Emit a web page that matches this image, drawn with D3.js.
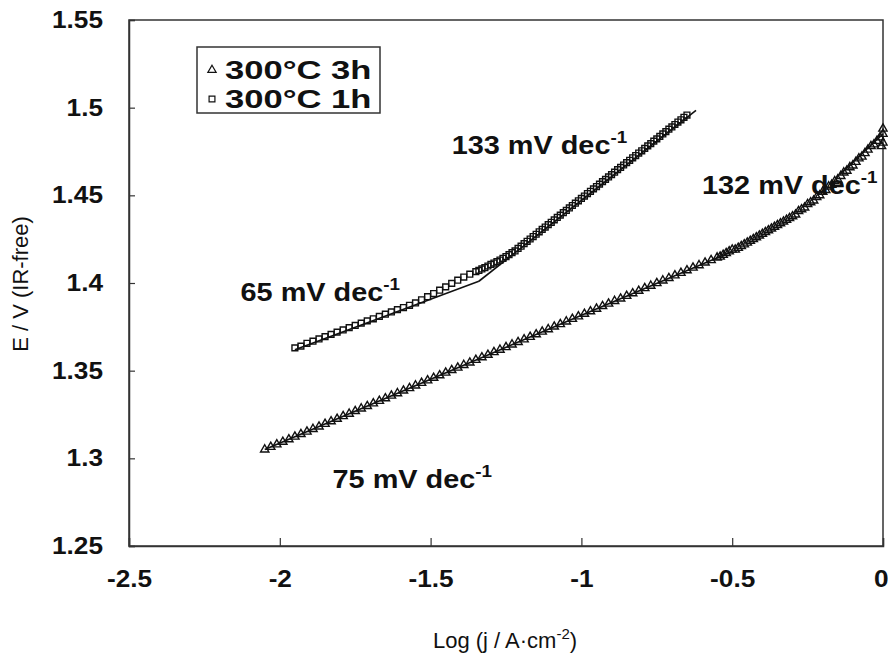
<!DOCTYPE html>
<html lang="en">
<head>
<meta charset="UTF-8">
<title>Tafel plot</title>
<script src="https://d3js.org/d3.v7.min.js"></script>
<style>
    body { margin: 0; background: #fff; }
    svg text { font-family: "Liberation Sans", Arial, sans-serif; fill: #111; }
</style>
</head>
<body>
<script>
// 300°C 3h (triangles)
const logj3h = [-2.05, -2.03, -2.01, -1.99, -1.97, -1.95, -1.93, -1.91, -1.89, -1.87,
    -1.85, -1.83, -1.81, -1.79, -1.77, -1.75, -1.73, -1.71, -1.69, -1.67,
    -1.65, -1.63, -1.61, -1.59, -1.57, -1.55, -1.53, -1.51, -1.49, -1.47,
    -1.45, -1.43, -1.41, -1.39, -1.37, -1.35, -1.33, -1.31, -1.29, -1.27,
    -1.25, -1.23, -1.21, -1.19, -1.17, -1.15, -1.13, -1.11, -1.09, -1.07,
    -1.05, -1.03, -1.01, -0.99, -0.97, -0.95, -0.93, -0.91, -0.89, -0.87,
    -0.85, -0.83, -0.81, -0.79, -0.77, -0.75, -0.73, -0.71, -0.69, -0.67,
    -0.65, -0.63, -0.61, -0.59, -0.57, -0.55,
    -0.54, -0.53, -0.52, -0.51, -0.50, -0.49, -0.48, -0.47, -0.46, -0.45,
    -0.44, -0.43, -0.42, -0.41, -0.40, -0.39, -0.38, -0.37, -0.36, -0.35,
    -0.34, -0.33, -0.32, -0.31, -0.30, -0.29, -0.28, -0.27, -0.26, -0.25,
    -0.24, -0.23, -0.22, -0.21, -0.20, -0.19, -0.18, -0.17, -0.16, -0.15,
    -0.14, -0.13, -0.12, -0.11, -0.10, -0.09, -0.08, -0.07, -0.06, -0.05,
    -0.04, -0.03, -0.02, -0.01, 0.00, 0.00, 0.00, -0.005];
const e3h = [1.3050, 1.3065, 1.3079, 1.3094, 1.3108, 1.3123, 1.3138, 1.3152, 1.3167, 1.3181,
    1.3196, 1.3211, 1.3225, 1.3240, 1.3254, 1.3269, 1.3284, 1.3298, 1.3313, 1.3327,
    1.3342, 1.3357, 1.3371, 1.3386, 1.3400, 1.3415, 1.3430, 1.3444, 1.3459, 1.3473,
    1.3488, 1.3503, 1.3517, 1.3532, 1.3546, 1.3561, 1.3576, 1.3590, 1.3605, 1.3619,
    1.3634, 1.3649, 1.3663, 1.3678, 1.3692, 1.3707, 1.3722, 1.3736, 1.3751, 1.3765,
    1.3780, 1.3795, 1.3809, 1.3824, 1.3838, 1.3853, 1.3868, 1.3882, 1.3897, 1.3911,
    1.3926, 1.3941, 1.3955, 1.3970, 1.3984, 1.3999, 1.4014, 1.4028, 1.4043, 1.4057,
    1.4072, 1.4087, 1.4101, 1.4116, 1.4130, 1.4145,
    1.415, 1.416, 1.417, 1.418, 1.419, 1.419, 1.420, 1.421, 1.422, 1.423,
    1.424, 1.425, 1.426, 1.427, 1.428, 1.429, 1.430, 1.431, 1.432, 1.433,
    1.434, 1.435, 1.436, 1.437, 1.438, 1.439, 1.441, 1.442, 1.443, 1.445,
    1.446, 1.447, 1.449, 1.450, 1.452, 1.453, 1.455, 1.456, 1.458, 1.459,
    1.461, 1.463, 1.464, 1.466, 1.467, 1.469, 1.471, 1.472, 1.474, 1.476,
    1.478, 1.479, 1.481, 1.483, 1.485, 1.480, 1.488, 1.478];

// 300°C 1h (squares)
const logj1h = [-1.95, -1.93, -1.91, -1.89, -1.87, -1.85, -1.83, -1.81, -1.79, -1.77,
    -1.75, -1.73, -1.71, -1.69, -1.67, -1.65, -1.63, -1.61, -1.59, -1.57,
    -1.55, -1.53, -1.51, -1.49, -1.47, -1.45, -1.43, -1.41, -1.39, -1.37,
    -1.35, -1.34, -1.33, -1.32, -1.31, -1.30, -1.29, -1.28, -1.27, -1.26,
    -1.25, -1.24, -1.23, -1.22, -1.21, -1.20, -1.19, -1.18, -1.17, -1.16,
    -1.15, -1.14, -1.13, -1.12, -1.11, -1.10, -1.09, -1.08, -1.07, -1.06,
    -1.05, -1.04, -1.03, -1.02, -1.01, -1.00, -0.99, -0.98, -0.97, -0.96,
    -0.95, -0.94, -0.93, -0.92, -0.91, -0.90, -0.89, -0.88, -0.87, -0.86,
    -0.85, -0.84, -0.83, -0.82, -0.81, -0.80, -0.79, -0.78, -0.77, -0.76,
    -0.75, -0.74, -0.73, -0.72, -0.71, -0.70, -0.69, -0.68, -0.67, -0.66, -0.65];
const e1h = [1.3630, 1.3640, 1.3656, 1.3668, 1.3681, 1.3694, 1.3707, 1.3720, 1.3732, 1.3745,
    1.3758, 1.3771, 1.3784, 1.3796, 1.3809, 1.3822, 1.3835, 1.3848, 1.3860, 1.3873,
    1.3886, 1.3904, 1.3922, 1.3940, 1.3959, 1.3978, 1.3998, 1.4016, 1.4034, 1.4050,
    1.4065, 1.4072, 1.4080, 1.4088, 1.4097, 1.4106, 1.4114, 1.4122, 1.4131, 1.4141,
    1.4151, 1.4162, 1.4173, 1.4183, 1.4197, 1.4210, 1.4224, 1.4238, 1.4251, 1.4265,
    1.4278, 1.4292, 1.4306, 1.4319, 1.4333, 1.4346, 1.4360, 1.4374, 1.4387, 1.4401,
    1.4414, 1.4428, 1.4442, 1.4455, 1.4469, 1.4482, 1.4496, 1.4510, 1.4523, 1.4537,
    1.4550, 1.4564, 1.4578, 1.4591, 1.4605, 1.4618, 1.4632, 1.4646, 1.4659, 1.4673,
    1.4686, 1.4700, 1.4714, 1.4727, 1.4741, 1.4754, 1.4768, 1.4782, 1.4795, 1.4809,
    1.4822, 1.4836, 1.4850, 1.4863, 1.4877, 1.4890, 1.4904, 1.4918, 1.4931, 1.4945, 1.4958];

// Tafel fit lines: [x1, y1, x2, y2]
const fitLines = [
    [-2.05, 1.305, -0.50, 1.418],   // 75 mV dec-1
    [-0.14, 1.4625, 0.00, 1.485],   // 132 mV dec-1
    [-1.95, 1.362, -1.34, 1.401],   // 65 mV dec-1
    [-1.34, 1.401, -0.62, 1.4985]   // 133 mV dec-1
];

// slope labels: value, anchor x, anchor y (data units)
const slopeLabels = [
    ["133", -1.43, 1.4735],
    ["132", -0.60, 1.4505],
    ["65", -2.13, 1.390],
    ["75", -1.825, 1.283]
];

const xTicks = [-2.5, -2, -1.5, -1, -0.5, 0];
const yTicks = [1.25, 1.3, 1.35, 1.4, 1.45, 1.5, 1.55];
const legendNames = ["300°C 3h", "300°C 1h"];

const W = 888, H = 659;
const mLeft = 129, mRight = 883, mTop = 20, mBottom = 546;

// the source figure's lettering is a bit wider than Arial
function stretch(sel, s) {
    sel.each(function () {
        const t = d3.select(this);
        const tx = +t.attr("x") || 0;
        t.attr("transform", `translate(${tx * (1 - s)},0) scale(${s},1)`);
    });
}

const svg = d3.select("body").append("svg")
    .attr("width", W)
    .attr("height", H);

const x = d3.scaleLinear().domain([-2.5, 0]).range([mLeft, mRight]);
const y = d3.scaleLinear().domain([1.25, 1.55]).range([mBottom, mTop]);

// plot frame
svg.append("rect")
    .attr("x", mLeft).attr("y", mTop)
    .attr("width", mRight - mLeft).attr("height", mBottom - mTop)
    .attr("fill", "none").attr("stroke", "#333").attr("stroke-width", 1.5);

const xAxis = svg.append("g")
    .attr("transform", `translate(0,${mBottom})`)
    .call(d3.axisBottom(x).tickValues(xTicks).tickSize(-8).tickPadding(25)
        .tickFormat(d => String(d)));
const yAxis = svg.append("g")
    .attr("transform", `translate(${mLeft},0)`)
    .call(d3.axisLeft(y).tickValues(yTicks).tickSize(-6).tickPadding(26)
        .tickFormat(d => String(+d.toFixed(2))));

[xAxis, yAxis].forEach(g => {
    g.select(".domain").attr("stroke", "#333").attr("stroke-width", 1.5);
    g.selectAll(".tick line").attr("stroke", "#333").attr("stroke-width", 1.2);
    g.selectAll(".tick text")
        .style("font-size", "23px").style("font-weight", "bold").attr("fill", "#111");
});
// keep the "0" label inside the picture
xAxis.selectAll(".tick text").filter(d => d === 0)
    .attr("text-anchor", "end").attr("x", 5);
stretch(xAxis.selectAll(".tick text"), 1.14);
stretch(yAxis.selectAll(".tick text"), 1.14);

const xTitle = svg.append("text")
    .attr("x", 505).attr("y", 648)
    .attr("text-anchor", "middle")
    .style("font-size", "22px")
    .text("Log (j / A·cm");
xTitle.append("tspan").attr("dy", -9).style("font-size", "15px").text("-2");
xTitle.append("tspan").attr("dy", 9).text(")");

svg.append("text")
    .attr("transform", "translate(28,284) rotate(-90)")
    .attr("text-anchor", "middle")
    .style("font-size", "22px")
    .text("E / V (IR-free)");

// fit lines
svg.append("g").selectAll("line")
    .data(fitLines)
    .join("line")
    .attr("x1", d => x(d[0])).attr("y1", d => y(d[1]))
    .attr("x2", d => x(d[2])).attr("y2", d => y(d[3]))
    .attr("stroke", "#111").attr("stroke-width", 1.6);

const tri = d3.symbol().type(d3.symbolTriangle).size(30);
const sq = d3.symbol().type(d3.symbolSquare).size(34);

svg.append("g").selectAll("path")
    .data(d3.zip(logj3h, e3h))
    .join("path")
    .attr("d", tri)
    .attr("transform", d => `translate(${x(d[0])},${y(d[1])})`)
    .attr("fill", "none").attr("stroke", "#111").attr("stroke-width", 1.4);

svg.append("g").selectAll("path")
    .data(d3.zip(logj1h, e1h))
    .join("path")
    .attr("d", sq)
    .attr("transform", d => `translate(${x(d[0])},${y(d[1])})`)
    .attr("fill", "none").attr("stroke", "#111").attr("stroke-width", 1.4);

// slope annotations
slopeLabels.forEach(([v, lx, ly]) => {
    const t = svg.append("text")
        .attr("x", x(lx)).attr("y", y(ly))
        .style("font-size", "26px").style("font-weight", "bold")
        .text(v + " mV dec");
    t.append("tspan").attr("dy", -11).style("font-size", "17px").text("-1");
    stretch(t, 1.11);
});

// legend
const lg = svg.append("g").attr("transform", "translate(197,47)");
lg.append("rect")
    .attr("width", 183).attr("height", 66)
    .attr("fill", "#fff").attr("stroke", "#333").attr("stroke-width", 1.5);
legendNames.forEach((name, i) => {
    const cy = 23 + i * 29;
    lg.append("path")
        .attr("d", i === 0 ? tri : sq)
        .attr("transform", `translate(15,${cy})`)
        .attr("fill", "none").attr("stroke", "#111").attr("stroke-width", 1.2);
    const t = lg.append("text")
        .attr("x", 28).attr("y", cy + 9)
        .style("font-size", "26px").style("font-weight", "bold")
        .text(name);
    stretch(t, 1.33);
});
</script>
</body>
</html>
